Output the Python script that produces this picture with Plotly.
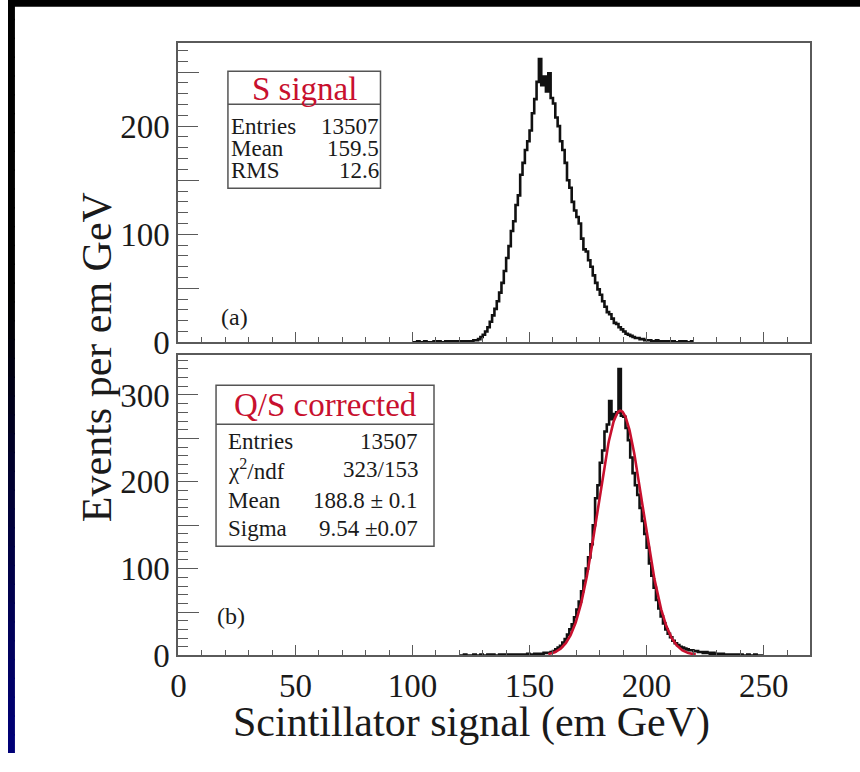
import numpy as np
import plotly.graph_objects as go

# ---------------------------------------------------------------------------
# Data: 1 GeV wide bins, counts per bin
# ---------------------------------------------------------------------------
# (a) raw scintillator signal, bins starting at S_BIN_START
S_BIN_START = 100
S_COUNTS = [
    0, 0, 1, 0, 0, 1, 0, 0, 0, 1,            # 100-109
    0, 1, 0, 0, 1, 0, 1, 0, 1, 1,            # 110-119
    0, 1, 0, 1, 1, 1, 2, 2, 3, 5,            # 120-129
    7, 10, 14, 19, 25, 31, 38, 46, 55, 66,   # 130-139
    78, 89, 103, 112, 127, 136, 155, 166, 178, 186,   # 140-149
    196, 212, 225, 241, 262, 238, 246, 232, 249, 226,  # 150-159
    221, 208, 200, 186, 178, 166, 150, 143, 130, 122,  # 160-169
    116, 110, 96, 86, 84, 76, 70, 62, 55, 49,  # 170-179
    44, 38, 33, 28, 26, 22, 18, 17, 14, 12,  # 180-189
    10, 8, 7, 6, 5, 4, 4, 3, 3, 2,           # 190-199
    2, 2, 1, 1, 2, 1, 1, 0, 1, 1,            # 200-209
    0, 1, 0, 0, 1, 0, 1, 0, 0, 1,            # 210-219
]

# (b) Q/S corrected signal, bins starting at QS_BIN_START
QS_BIN_START = 120
QS_COUNTS = [
    0, 0, 1, 0, 0, 0, 1, 0, 0, 1,            # 120-129
    0, 0, 1, 0, 1, 0, 0, 1, 0, 1,            # 130-139
    1, 0, 1, 1, 0, 1, 1, 1, 1, 2,            # 140-149
    1, 1, 2, 1, 2, 2, 3, 3, 3, 4,            # 150-159
    5, 7, 9, 11, 15, 19, 24, 30, 36, 44,     # 160-169
    53, 62, 74, 86, 100, 113, 128, 150, 181, 196,      # 170-179
    222, 236, 258, 266, 293, 272, 278, 280, 330, 276,  # 180-189
    275, 262, 248, 228, 210, 196, 185, 170, 155, 140,  # 190-199
    124, 106, 92, 78, 64, 54, 45, 37, 30, 25,          # 200-209
    21, 17, 14, 12, 10, 9, 8, 7, 6, 6,       # 210-219
    5, 5, 4, 4, 3, 4, 3, 2, 3, 2,            # 220-229
    2, 1, 2, 1, 1, 1, 0, 1, 1, 0,            # 230-239
    1, 0, 0, 1, 0, 0, 1, 0, 0, 0,            # 240-249
]

# Gaussian fit to (b)
FIT_CONSTANT = 282.0
FIT_MEAN = 188.8
FIT_SIGMA = 9.54
FIT_RANGE = (158.0, 221.0)

# Statistics boxes
S_STATS = [("Entries", "13507"), ("Mean", "159.5"), ("RMS", "12.6")]
QS_STATS = [("Entries", "13507"), ("χ<sup>2</sup>/ndf", "323/153"),
            ("Mean", "188.8 ± 0.1"), ("Sigma", "9.54 ±0.07")]

X_RANGE = [0, 270]
Y_RANGE_A = [0, 277]
Y_RANGE_B = [0, 346]

# ---------------------------------------------------------------------------
W, H = 860, 772
FONT = "Liberation Serif"
AXIS_COLOR = "#5a5a5a"
TEXT = "#1a1a1a"
RED = "#c8102e"


def fx(px):
    return px / W


def fy(py):
    return 1 - py / H


def step_xy(start, counts):
    edges = np.arange(start, start + len(counts) + 1, dtype=float)
    ys = list(counts) + [counts[-1]]
    return edges, ys


fig = go.Figure()

xa, ya = step_xy(S_BIN_START, S_COUNTS)
fig.add_trace(go.Scatter(x=xa, y=ya, mode="lines", line=dict(shape="hv", color="#111", width=2.6),
                         xaxis="x", yaxis="y", showlegend=False, hoverinfo="skip"))

xb, yb = step_xy(QS_BIN_START, QS_COUNTS)
fig.add_trace(go.Scatter(x=xb, y=yb, mode="lines", line=dict(shape="hv", color="#111", width=2.6),
                         xaxis="x2", yaxis="y2", showlegend=False, hoverinfo="skip"))

xf = np.linspace(FIT_RANGE[0], FIT_RANGE[1], 300)
yf = FIT_CONSTANT * np.exp(-0.5 * ((xf - FIT_MEAN) / FIT_SIGMA) ** 2)
fig.add_trace(go.Scatter(x=xf, y=yf, mode="lines", line=dict(color=RED, width=2.6),
                         xaxis="x2", yaxis="y2", showlegend=False, hoverinfo="skip"))

XDOM = [fx(172), fx(810)]
DOM_A = [fy(351), fy(44)]
DOM_B = [fy(672), fy(364)]

TICK_SIZE = 33

common_x = dict(range=X_RANGE, showgrid=False, zeroline=False, showline=True, linecolor=AXIS_COLOR,
                linewidth=2, mirror=True, ticks="inside", ticklen=10, tickwidth=1.3, tickcolor=AXIS_COLOR,
                tickmode="linear", tick0=0, dtick=50,
                minor=dict(tickmode="linear", tick0=0, dtick=10, ticks="inside", ticklen=5,
                           tickwidth=1.2, tickcolor=AXIS_COLOR, showgrid=False),
                tickfont=dict(family=FONT, size=TICK_SIZE, color=TEXT))


def y_axis(rng, dom, anchor):
    # labelled ticks every 100, short minor ticks every 10
    return dict(range=rng, domain=dom, anchor=anchor, showgrid=False, zeroline=False, showline=True,
                linecolor=AXIS_COLOR, linewidth=2, mirror=True, ticks="inside", ticklen=20,
                tickwidth=1.3, tickcolor=AXIS_COLOR, tickmode="linear", tick0=0, dtick=100,
                minor=dict(tickmode="linear", tick0=0, dtick=10, ticks="inside", ticklen=10,
                           tickwidth=1.2, tickcolor=AXIS_COLOR, showgrid=False),
                tickfont=dict(family=FONT, size=TICK_SIZE, color=TEXT))


def y_half_ticks(rng, overlay):
    # unlabelled long ticks at the half-way (50) marks
    return dict(range=rng, overlaying=overlay, anchor="free", position=fx(172), side="left",
                showgrid=False, zeroline=False, showline=False, showticklabels=False,
                ticks="inside", ticklen=20, tickwidth=1.3, tickcolor=AXIS_COLOR,
                tickmode="linear", tick0=50, dtick=100)


fig.update_layout(
    width=W, height=H, margin=dict(l=0, r=0, t=0, b=0),
    paper_bgcolor="white", plot_bgcolor="white",
    xaxis=dict(common_x, domain=XDOM, anchor="y", showticklabels=False),
    yaxis=y_axis(Y_RANGE_A, DOM_A, "x"),
    xaxis2=dict(common_x, domain=XDOM, anchor="y2", showticklabels=True),
    yaxis2=y_axis(Y_RANGE_B, DOM_B, "x2"),
    yaxis3=y_half_ticks(Y_RANGE_A, "y"),
    yaxis4=y_half_ticks(Y_RANGE_B, "y2"),
)
# invisible carriers so the half-tick axes are drawn
fig.add_trace(go.Scatter(x=[None], y=[None], xaxis="x", yaxis="y3", showlegend=False, hoverinfo="skip"))
fig.add_trace(go.Scatter(x=[None], y=[None], xaxis="x2", yaxis="y4", showlegend=False, hoverinfo="skip"))

shapes = []
annotations = []

# slide frame: black top band, left band fading from black to navy
shapes.append(dict(type="rect", xref="paper", yref="paper", x0=0, x1=1, y0=fy(7), y1=1,
                   fillcolor="black", line_width=0, layer="above"))
n_seg = 40
seg_h = H / n_seg
for i in range(n_seg):
    y0p = i * seg_h
    y1p = min(H, (i + 1) * seg_h + 1.5)
    k = max(0.0, (y0p - 300) / (H - 300))
    col = f"rgb(0,0,{int(125 * k)})"
    shapes.append(dict(type="rect", xref="paper", yref="paper", x0=0, x1=fx(7),
                       y0=fy(y1p), y1=fy(y0p), fillcolor=col, line=dict(width=0, color=col),
                       layer="above"))


def stats_box(x0, x1, y0, ydiv, y1, title, title_y, title_size, rows, row_ys, row_size, lx, rx):
    shapes.append(dict(type="rect", xref="paper", yref="paper", x0=fx(x0), x1=fx(x1),
                       y0=fy(y1), y1=fy(y0), fillcolor="white",
                       line=dict(color="#555", width=1.5), layer="above"))
    shapes.append(dict(type="line", xref="paper", yref="paper", x0=fx(x0), x1=fx(x1),
                       y0=fy(ydiv), y1=fy(ydiv), line=dict(color="#555", width=1.5), layer="above"))
    annotations.append(dict(xref="paper", yref="paper", x=fx((x0 + x1) / 2), y=fy(title_y),
                            text=title, showarrow=False, xanchor="center", yanchor="middle",
                            font=dict(family=FONT, size=title_size, color=RED)))
    for (lab, val), ry in zip(rows, row_ys):
        annotations.append(dict(xref="paper", yref="paper", x=fx(lx), y=fy(ry), text=lab,
                                showarrow=False, xanchor="left", yanchor="middle",
                                font=dict(family=FONT, size=row_size, color=TEXT)))
        annotations.append(dict(xref="paper", yref="paper", x=fx(rx), y=fy(ry), text=val,
                                showarrow=False, xanchor="right", yanchor="middle",
                                font=dict(family=FONT, size=row_size, color=TEXT)))


stats_box(222, 376, 73, 107, 193, "S signal", 91, 33, S_STATS, [130, 152, 175], 23, 223, 376)
stats_box(210, 430, 395, 435, 560, "Q/S corrected", 415, 33, QS_STATS, [453, 481, 513, 542], 23, 220, 416)

annotations.append(dict(xref="paper", yref="paper", x=fx(213), y=fy(325), text="(a)", showarrow=False,
                        font=dict(family=FONT, size=24, color=TEXT)))
annotations.append(dict(xref="paper", yref="paper", x=fx(209), y=fy(647), text="(b)", showarrow=False,
                        font=dict(family=FONT, size=24, color=TEXT)))

annotations.append(dict(xref="paper", yref="paper", x=fx(90), y=fy(366), text="Events per em GeV",
                        textangle=-90, showarrow=False, xanchor="center", yanchor="middle",
                        font=dict(family=FONT, size=42, color=TEXT)))
annotations.append(dict(xref="paper", yref="paper", x=fx(468), y=fy(741),
                        text="Scintillator signal (em GeV)", showarrow=False,
                        xanchor="center", yanchor="middle",
                        font=dict(family=FONT, size=42, color=TEXT)))

fig.update_layout(shapes=shapes, annotations=annotations)
fig.write_html("out.html")
